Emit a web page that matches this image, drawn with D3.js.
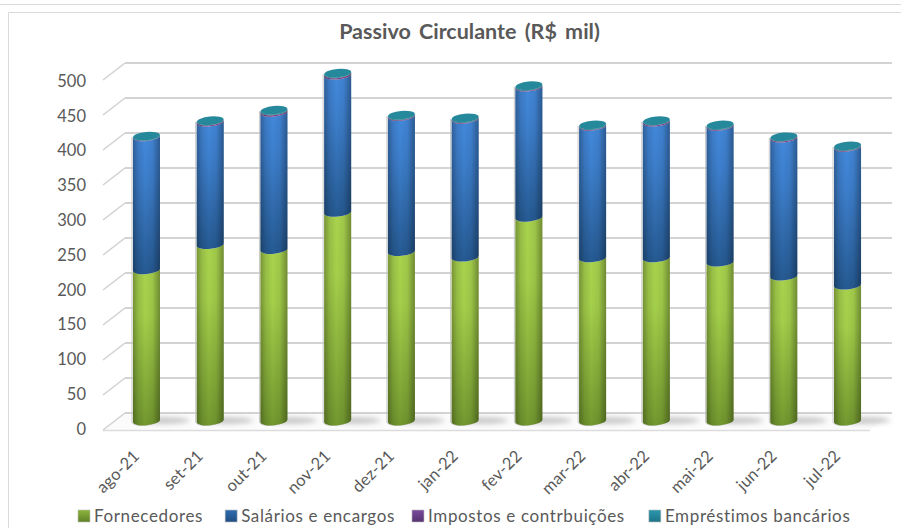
<!DOCTYPE html>
<html>
<head>
<meta charset="utf-8">
<script src="https://cdn.jsdelivr.net/npm/d3@7"></script>
<style>
html, body { margin: 0; padding: 0; background: #fff; }
svg { display: block; }
text { font-family: Lato, "Open Sans", sans-serif; fill: #595959; }
</style>
</head>
<body>
<div id="container"></div>
<script>
// Chart data
const months = ["ago-21", "set-21", "out-21", "nov-21", "dez-21", "jan-22", "fev-22", "mar-22", "abr-22", "mai-22", "jun-22", "jul-22"];
const fornecedores = [216, 252, 245, 298, 242, 234, 291, 233, 233, 227, 207, 194];
const salarios = [190, 175, 196, 196, 193, 197, 186, 188, 194, 194, 197, 197];
const impostos = [0.5, 1.5, 2, 2, 1, 1, 1, 1, 1.5, 1, 1.5, 1];
const emprestimos = [0.5, 0.5, 1, 1, 1, 1, 1, 1, 0.5, 1, 0.5, 1];
const seriesNames = ["Fornecedores", "Salários e encargos", "Impostos e contrbuições", "Empréstimos bancários"];
const yTicks = [0, 50, 100, 150, 200, 250, 300, 350, 400, 450, 500];

// Chart dimensions
const width = 901;
const height = 528;
const backLeft = 125;
const backRight = 892;
const backBottom = 413;
const backTop = 63;
const depthX = 22;
const depthY = 17;
const barRx = 13.5;
const barRy = 4.2;
const tilt = 1.3;

const stacks = d3.stack().keys(d3.range(4)).value((i, k) => [fornecedores, salarios, impostos, emprestimos][k][i])(d3.range(months.length));

const x = d3.scaleBand()
    .domain(months)
    .range([114.6, 879.4])
    .paddingInner(0.576)
    .paddingOuter(0.288);

// back wall scale
const y = d3.scaleLinear().domain([0, 500]).range([backBottom, backTop]);
// bars stand in the middle of the floor
const yBar = d3.scaleLinear().domain([0, 500]).range([backBottom + 8, backTop + 8]);
// labels of the axis
const yLabel = d3.scaleLinear().domain([0, 500]).range([429, 81]);

const svg = d3.create("svg").attr("width", width).attr("height", height);
const defs = svg.append("defs");

defs.append("filter").attr("id", "soft").attr("x", "-20%").attr("width", "140%")
    .append("feGaussianBlur").attr("stdDeviation", 0.45);
defs.append("filter").attr("id", "shadowBlur").attr("x", "-30%").attr("y", "-60%").attr("width", "160%").attr("height", "220%")
    .append("feGaussianBlur").attr("stdDeviation", 2.4);

// vertical colour ramps of the series
const ramps = [
    ["#a9d34e", "#a4cf4a", "#73982f"],
    ["#4389dc", "#3d7fcd", "#265a92"],
    ["#a0509a", "#a0509a", "#7e3f86"],
    ["#2a97ae", "#2a97ae", "#23808f"]
];
ramps.forEach((c, i) => {
    const g = defs.append("linearGradient").attr("id", "ramp" + i)
        .attr("x1", 0).attr("x2", 0).attr("y1", 0).attr("y2", 1);
    g.append("stop").attr("offset", "0%").attr("stop-color", c[0]);
    g.append("stop").attr("offset", "30%").attr("stop-color", c[1]);
    g.append("stop").attr("offset", "100%").attr("stop-color", c[2]);
});
// horizontal shading that makes the cylinder round
const side = defs.append("linearGradient").attr("id", "side");
[[0, 0.3], [0.2, 0.1], [0.45, 0], [0.72, 0.06], [1, 0.34]].forEach(s => {
    side.append("stop").attr("offset", s[0] * 100 + "%").attr("stop-color", "#000").attr("stop-opacity", s[1]);
});

/*** FRAME ***/
const frame = svg.append("g").attr("fill", "none").attr("stroke", "#d9d9d9").attr("stroke-width", 1);
frame.append("path").attr("d", `M0,4.5H${width}`);
frame.append("path").attr("d", `M8.5,${height}V12.5H${width}`);

/*** TITLE ***/
svg.append("text")
    .attr("x", 469.5).attr("y", 39)
    .attr("text-anchor", "middle")
    .attr("font-size", 21.5).attr("font-weight", 700)
    .attr("word-spacing", 3)
    .text("Passivo Circulante (R$ mil)");

/*** FLOOR AND GRIDLINES ***/
svg.append("path")
    .attr("d", `M${backLeft - depthX},${backBottom + depthY}L${backLeft},${backBottom}H${backRight}L${backRight - depthX},${backBottom + depthY}Z`)
    .attr("fill", "#fbfbfb");
svg.append("path")
    .attr("d", `M${backLeft - depthX},${backBottom + depthY + 0.5}H${backRight - depthX}`)
    .attr("stroke", "#dcdcdc").attr("stroke-width", 1.6);

const grid = svg.append("g").attr("fill", "none").attr("filter", "url(#soft)");
grid.selectAll("path.back").data(yTicks).join("path").attr("class", "back")
    .attr("d", d => `M${backLeft},${y(d)}H${backRight}`)
    .attr("stroke", "#c4c4c4").attr("stroke-width", 1.6);
grid.selectAll("path.wall").data(yTicks).join("path").attr("class", "wall")
    .attr("d", d => `M${backLeft - depthX},${y(d) + depthY}L${backLeft},${y(d)}`)
    .attr("stroke", "#d0d0d0").attr("stroke-width", 1.5);

/*** BARS ***/
// shadows on the floor
svg.append("g").attr("filter", "url(#shadowBlur)")
    .selectAll("ellipse").data(months).join("ellipse")
    .attr("cx", d => x(d) + x.bandwidth() / 2 + 17)
    .attr("cy", yBar(0) - 0.5)
    .attr("rx", 26).attr("ry", 3.2)
    .attr("fill", "#8a8a8a").attr("opacity", 0.45);

// one cylinder piece, between two values
function piece(x0, top, bottom) {
    const w = x.bandwidth();
    const rot = -5.5;
    return `M${x0},${top + tilt}`
        + `V${bottom + tilt}`
        + `A${barRx},${barRy} ${rot} 0 0 ${x0 + w},${bottom - tilt}`
        + `V${top - tilt}`
        + `A${barRx},${barRy} ${rot} 0 1 ${x0},${top + tilt}Z`;
}

const bars = svg.append("g").attr("filter", "url(#soft)");

// thin halo beside the bars
bars.append("g").selectAll("path").data(months).join("path")
    .attr("d", (d, i) => piece(x(d) - 1, yBar(stacks[3][i][1]), yBar(0)))
    .attr("fill", "none").attr("stroke", "#c8c8c8").attr("stroke-width", 1);

stacks.forEach((s, k) => {
    const g = bars.append("g");
    g.selectAll("path.fill").data(s).join("path").attr("class", "fill")
        .attr("d", (d, i) => piece(x(months[i]), yBar(d[1]), yBar(d[0])))
        .attr("fill", "url(#ramp" + k + ")");
    g.selectAll("path.shade").data(s).join("path").attr("class", "shade")
        .attr("d", (d, i) => piece(x(months[i]), yBar(d[1]), yBar(d[0])))
        .attr("fill", "url(#side)");
});

// top cap of each bar
bars.append("g").selectAll("ellipse").data(months).join("ellipse")
    .attr("transform", (d, i) => `translate(${x(d) + x.bandwidth() / 2},${yBar(stacks[3][i][1])}) rotate(-5.5)`)
    .attr("rx", barRx).attr("ry", barRy)
    .attr("fill", "#26899b");

/*** AXES ***/
const yAxis = svg.append("g")
    .attr("transform", "translate(86,0)")
    .call(d3.axisLeft(yLabel).tickValues(yTicks).tickSize(0).tickPadding(0));
yAxis.select(".domain").remove();
yAxis.attr("font-family", null);
yAxis.selectAll("text").attr("font-size", 16.5);

const xAxis = svg.append("g")
    .attr("transform", "translate(0,430)")
    .call(d3.axisBottom(x).tickSize(0).tickPadding(0));
xAxis.select(".domain").remove();
xAxis.attr("font-family", null);
xAxis.selectAll("text")
    .attr("font-size", 16.5)
    .attr("letter-spacing", 0.2)
    .attr("text-anchor", "end")
    .attr("dy", null)
    .attr("y", 0)
    .attr("transform", "translate(-6,27) rotate(-45)");

/*** LEGEND ***/
const legendColors = ["#8cb53c", "#2f6db0", "#7a4a9c", "#2a97ae"];
const legendDark = ["#5f8026", "#1f4d80", "#553370", "#1f7488"];
const legendGap = [22, 17, 24];
const legend = svg.append("g");
container.append(svg.node());
let lx = 78;
seriesNames.forEach((name, i) => {
    const grad = defs.append("linearGradient").attr("id", "leg" + i)
        .attr("x1", 0).attr("x2", 0).attr("y1", 0).attr("y2", 1);
    grad.append("stop").attr("offset", "0%").attr("stop-color", legendColors[i]);
    grad.append("stop").attr("offset", "100%").attr("stop-color", legendDark[i]);
    legend.append("rect")
        .attr("x", lx).attr("y", 510).attr("width", 12).attr("height", 12)
        .attr("fill", "url(#leg" + i + ")")
        .attr("stroke", "#bdbdbd").attr("stroke-width", 0.6);
    const t = legend.append("text")
        .attr("x", lx + 16).attr("y", 522)
        .attr("font-size", 17).attr("letter-spacing", 0.64)
        .text(name);
    lx += 16 + t.node().getComputedTextLength() + (legendGap[i] || 0);
});
</script>
</body>
</html>
